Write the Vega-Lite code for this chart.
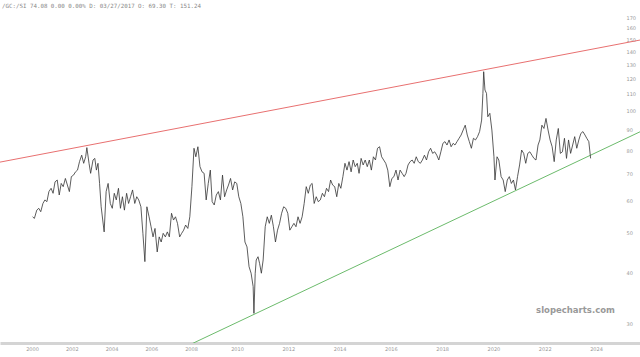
{
  "$schema": "https://vega.github.io/schema/vega-lite/v6.json",
  "width": 640,
  "height": 332,
  "autosize": {"type": "none"},
  "padding": {"left": 0, "top": 11, "right": 0, "bottom": 14},
  "background": "white",
  "config": {"view": {"stroke": null}, "font": "DejaVu Sans"},
  "title": {"text": "/GC:/SI 74.08 0.00 0.00% D: 03/27/2017 O: 69.30 T: 151.24", "anchor": "start", "frame": "group", "font": "DejaVu Sans Mono", "fontSize": 5.8, "fontWeight": "normal", "color": "#888888", "offset": 2, "dx": 2},
  "datasets": {
    "series": [
      {"year":2000.03,"value":54.8},{"year":2000.12,"value":54.3},{"year":2000.24,"value":56.9},{"year":2000.34,"value":57.5},{"year":2000.44,"value":56.4},{"year":2000.55,"value":59.1},{"year":2000.65,"value":60.3},{"year":2000.75,"value":59.7},{"year":2000.85,"value":63.2},{"year":2000.96,"value":64.4},
      {"year":2001.06,"value":62.6},{"year":2001.16,"value":66.8},{"year":2001.27,"value":67.5},{"year":2001.37,"value":62.0},{"year":2001.47,"value":66.2},{"year":2001.57,"value":65.0},{"year":2001.68,"value":68.1},{"year":2001.78,"value":65.6},{"year":2001.88,"value":63.2},{"year":2001.98,"value":68.8},
      {"year":2002.09,"value":69.4},{"year":2002.19,"value":70.7},{"year":2002.29,"value":71.4},{"year":2002.39,"value":74.9},{"year":2002.50,"value":77.7},{"year":2002.60,"value":74.2},{"year":2002.70,"value":77.0},{"year":2002.76,"value":81.1},{"year":2002.87,"value":74.2},{"year":2002.95,"value":70.1},
      {"year":2003.07,"value":75.6},{"year":2003.16,"value":76.3},{"year":2003.24,"value":71.4},{"year":2003.32,"value":74.2},{"year":2003.40,"value":66.2},{"year":2003.48,"value":58.0},{"year":2003.63,"value":50.3},{"year":2003.73,"value":63.2},{"year":2003.83,"value":66.2},{"year":2003.94,"value":59.1},
      {"year":2004.04,"value":57.5},{"year":2004.14,"value":62.6},{"year":2004.24,"value":60.3},{"year":2004.35,"value":64.4},{"year":2004.45,"value":57.5},{"year":2004.55,"value":61.4},{"year":2004.65,"value":56.9},{"year":2004.76,"value":62.6},{"year":2004.86,"value":59.1},{"year":2004.96,"value":61.4},
      {"year":2005.06,"value":63.8},{"year":2005.17,"value":59.1},{"year":2005.27,"value":61.4},{"year":2005.37,"value":60.3},{"year":2005.48,"value":58.0},{"year":2005.58,"value":49.9},{"year":2005.68,"value":42.5},{"year":2005.78,"value":58.0},{"year":2005.89,"value":54.8},{"year":2005.99,"value":51.8},
      {"year":2006.09,"value":48.9},{"year":2006.19,"value":51.3},{"year":2006.30,"value":44.9},{"year":2006.40,"value":48.9},{"year":2006.50,"value":47.5},{"year":2006.60,"value":49.9},{"year":2006.71,"value":48.9},{"year":2006.81,"value":50.3},{"year":2006.91,"value":48.9},
      {"year":2007.02,"value":55.9},{"year":2007.12,"value":53.8},{"year":2007.22,"value":54.8},{"year":2007.32,"value":52.8},{"year":2007.43,"value":48.9},{"year":2007.53,"value":49.9},{"year":2007.63,"value":50.8},{"year":2007.73,"value":52.3},{"year":2007.84,"value":51.3},{"year":2007.94,"value":54.8},
      {"year":2008.04,"value":65.0},{"year":2008.13,"value":80.8},{"year":2008.21,"value":77.0},{"year":2008.30,"value":81.5},{"year":2008.39,"value":72.8},{"year":2008.48,"value":70.7},{"year":2008.57,"value":70.1},{"year":2008.66,"value":60.3},{"year":2008.75,"value":66.2},{"year":2008.84,"value":71.4},{"year":2008.92,"value":59.7},
      {"year":2009.01,"value":58.6},{"year":2009.10,"value":62.0},{"year":2009.19,"value":63.2},{"year":2009.28,"value":60.3},{"year":2009.37,"value":69.4},{"year":2009.46,"value":61.4},{"year":2009.55,"value":63.8},{"year":2009.63,"value":65.6},{"year":2009.72,"value":68.1},{"year":2009.81,"value":63.8},{"year":2009.90,"value":66.8},{"year":2009.99,"value":66.2},
      {"year":2010.07,"value":61.4},{"year":2010.15,"value":59.1},{"year":2010.23,"value":54.8},{"year":2010.31,"value":47.5},{"year":2010.39,"value":46.2},{"year":2010.47,"value":41.3},{"year":2010.55,"value":39.8},{"year":2010.63,"value":36.9},{"year":2010.66,"value":31.7},{"year":2010.71,"value":39.8},{"year":2010.75,"value":42.9},{"year":2010.82,"value":43.7},{"year":2010.88,"value":42.1},{"year":2010.95,"value":39.8},
      {"year":2011.02,"value":42.9},{"year":2011.10,"value":51.8},{"year":2011.18,"value":54.8},{"year":2011.26,"value":52.8},{"year":2011.34,"value":55.3},{"year":2011.42,"value":51.8},{"year":2011.50,"value":47.5},{"year":2011.58,"value":50.8},{"year":2011.66,"value":52.8},{"year":2011.74,"value":55.9},{"year":2011.82,"value":58.0},{"year":2011.90,"value":57.5},{"year":2011.98,"value":55.9},
      {"year":2012.06,"value":50.8},{"year":2012.14,"value":51.8},{"year":2012.22,"value":52.8},{"year":2012.30,"value":51.8},{"year":2012.38,"value":54.8},{"year":2012.46,"value":52.8},{"year":2012.54,"value":54.8},{"year":2012.62,"value":59.1},{"year":2012.70,"value":65.0},{"year":2012.78,"value":62.6},{"year":2012.86,"value":65.6},{"year":2012.93,"value":66.2},
      {"year":2013.01,"value":59.1},{"year":2013.09,"value":61.4},{"year":2013.17,"value":59.7},{"year":2013.25,"value":60.3},{"year":2013.33,"value":62.6},{"year":2013.41,"value":61.4},{"year":2013.49,"value":64.4},{"year":2013.57,"value":63.2},{"year":2013.65,"value":67.5},{"year":2013.73,"value":65.6},{"year":2013.81,"value":65.0},{"year":2013.89,"value":61.4},{"year":2013.97,"value":66.2},
      {"year":2014.05,"value":64.4},{"year":2014.13,"value":68.8},{"year":2014.21,"value":74.2},{"year":2014.29,"value":71.4},{"year":2014.37,"value":74.9},{"year":2014.45,"value":70.7},{"year":2014.53,"value":75.6},{"year":2014.61,"value":72.8},{"year":2014.69,"value":74.2},{"year":2014.76,"value":70.1},{"year":2014.84,"value":76.3},{"year":2014.92,"value":73.5},
      {"year":2015.00,"value":75.6},{"year":2015.08,"value":72.8},{"year":2015.16,"value":75.6},{"year":2015.24,"value":71.4},{"year":2015.32,"value":77.0},{"year":2015.40,"value":75.6},{"year":2015.48,"value":80.8},{"year":2015.56,"value":81.5},{"year":2015.64,"value":77.0},{"year":2015.72,"value":75.6},{"year":2015.80,"value":74.2},{"year":2015.88,"value":71.4},{"year":2015.96,"value":65.0},
      {"year":2016.04,"value":68.1},{"year":2016.12,"value":68.8},{"year":2016.20,"value":71.4},{"year":2016.28,"value":67.5},{"year":2016.36,"value":71.4},{"year":2016.44,"value":70.1},{"year":2016.52,"value":68.8},{"year":2016.59,"value":70.1},{"year":2016.67,"value":73.5},{"year":2016.75,"value":74.9},{"year":2016.83,"value":75.6},{"year":2016.91,"value":74.2},{"year":2016.99,"value":77.0},
      {"year":2017.07,"value":74.9},{"year":2017.15,"value":74.2},{"year":2017.23,"value":75.6},{"year":2017.31,"value":77.7},{"year":2017.39,"value":75.6},{"year":2017.47,"value":79.2},{"year":2017.55,"value":80.8},{"year":2017.63,"value":78.5},{"year":2017.71,"value":79.2},{"year":2017.79,"value":77.7},{"year":2017.87,"value":75.6},{"year":2017.95,"value":79.2},
      {"year":2018.03,"value":83.1},{"year":2018.11,"value":83.9},{"year":2018.19,"value":82.3},{"year":2018.27,"value":84.7},{"year":2018.35,"value":81.5},{"year":2018.43,"value":83.1},{"year":2018.50,"value":82.3},{"year":2018.58,"value":83.9},{"year":2018.66,"value":85.5},{"year":2018.74,"value":87.1},{"year":2018.82,"value":89.6},{"year":2018.90,"value":92.1},{"year":2018.98,"value":87.1},
      {"year":2019.06,"value":83.9},{"year":2019.14,"value":80.8},{"year":2019.22,"value":85.5},{"year":2019.30,"value":84.7},{"year":2019.38,"value":86.3},{"year":2019.46,"value":88.8},{"year":2019.54,"value":94.8},{"year":2019.59,"value":110.3},{"year":2019.62,"value":124.7},{"year":2019.67,"value":112.4},{"year":2019.73,"value":110.3},{"year":2019.78,"value":96.6},{"year":2019.86,"value":98.5},{"year":2019.94,"value":89.6},
      {"year":2020.02,"value":77.0},{"year":2020.06,"value":67.5},{"year":2020.14,"value":77.0},{"year":2020.21,"value":75.6},{"year":2020.30,"value":68.8},{"year":2020.38,"value":67.5},{"year":2020.46,"value":63.2},{"year":2020.54,"value":67.5},{"year":2020.62,"value":68.8},{"year":2020.70,"value":66.2},{"year":2020.78,"value":67.5},{"year":2020.86,"value":63.8},{"year":2020.94,"value":68.8},
      {"year":2021.02,"value":73.5},{"year":2021.10,"value":80.0},{"year":2021.18,"value":78.5},{"year":2021.26,"value":74.2},{"year":2021.34,"value":78.5},{"year":2021.42,"value":79.2},{"year":2021.50,"value":77.7},{"year":2021.58,"value":76.3},{"year":2021.66,"value":75.6},{"year":2021.74,"value":82.3},{"year":2021.81,"value":84.7},{"year":2021.89,"value":92.1},{"year":2021.97,"value":90.4},
      {"year":2022.05,"value":95.7},{"year":2022.13,"value":89.6},{"year":2022.21,"value":84.7},{"year":2022.29,"value":81.5},{"year":2022.37,"value":74.9},{"year":2022.45,"value":84.7},{"year":2022.53,"value":90.4},{"year":2022.61,"value":78.5},{"year":2022.69,"value":79.2},{"year":2022.77,"value":85.5},{"year":2022.85,"value":76.3},{"year":2022.93,"value":84.7},
      {"year":2023.01,"value":78.5},{"year":2023.09,"value":82.3},{"year":2023.17,"value":86.3},{"year":2023.25,"value":80.8},{"year":2023.33,"value":84.7},{"year":2023.41,"value":87.9},{"year":2023.49,"value":88.8},{"year":2023.57,"value":87.1},{"year":2023.64,"value":85.5},{"year":2023.72,"value":83.9},{"year":2023.79,"value":76.3}
    ],
    "trend": [
      {"line":"resistance","year":1998.39,"value":74.7},
      {"line":"resistance","year":2025.72,"value":149.2},
      {"line":"support","year":2007.70,"value":26.2},
      {"line":"support","year":2025.72,"value":88.7}
    ]
  },
  "layer": [
    {
      "data": {"name": "trend"},
      "mark": {"type": "line", "strokeWidth": 1, "clip": true},
      "encoding": {
        "x": {"field": "year", "type": "quantitative",
              "scale": {"type": "linear", "domain": [1998.39, 2000, 2008, 2010, 2024, 2025.72], "range": [0, 32, 191, 237, 596, 640], "zero": false, "nice": false, "clamp": false},
              "axis": {"values": [2000,2002,2004,2006,2008,2010,2012,2014,2016,2018,2020,2022,2024], "format": "d", "title": null, "grid": false, "ticks": false, "domainColor": "#d4d4d4", "domainWidth": 3, "labelFontSize": 5, "labelColor": "#999999", "labelPadding": 3, "labelFlush": false}},
        "y": {"field": "value", "type": "quantitative",
              "scale": {"type": "log", "domain": [26.8, 175.9], "nice": false, "zero": false},
              "axis": {"orient": "right", "offset": -18, "values": [30,40,50,60,70,80,90,100,110,120,130,140,150,160,170], "format": "d", "title": null, "grid": false, "ticks": false, "domain": false, "labelFontSize": 5, "labelColor": "#999999", "labelPadding": 4}},
        "color": {"field": "line", "type": "nominal", "scale": {"domain": ["resistance", "support"], "range": ["#e87070", "#6cbb6c"]}, "legend": null},
        "detail": {"field": "line"}
      }
    },
    {
      "data": {"name": "series"},
      "mark": {"type": "line", "color": "#333333", "strokeWidth": 0.8},
      "encoding": {
        "x": {"field": "year", "type": "quantitative"},
        "y": {"field": "value", "type": "quantitative"}
      }
    },
    {
      "data": {"values": [{"label": "slopecharts.com"}]},
      "mark": {"type": "text", "font": "DejaVu Sans", "fontSize": 8.5, "fontWeight": "bold", "color": "#999999", "align": "center", "baseline": "middle"},
      "encoding": {
        "x": {"datum": 2023.2, "type": "quantitative"},
        "y": {"datum": 32.4, "type": "quantitative"},
        "text": {"field": "label"}
      }
    }
  ]
}
